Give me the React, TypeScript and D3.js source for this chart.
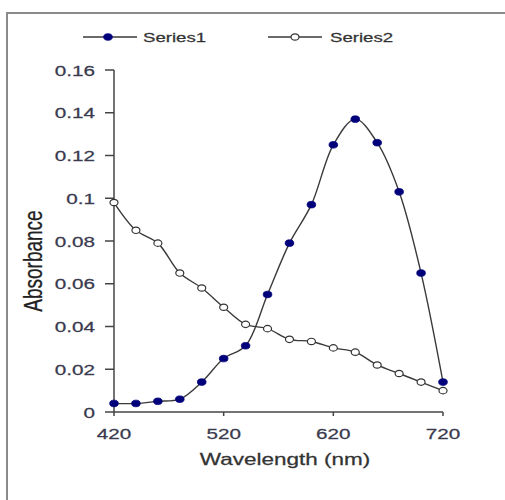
import React from "react";
import * as d3 from "d3";

// Wavelength grid (nm) and absorbance readings for the two series
const wavelengths = [420, 440, 460, 480, 500, 520, 540, 560, 580, 600, 620, 640, 660, 680, 700, 720];
const series1 = [0.004, 0.004, 0.005, 0.006, 0.014, 0.025, 0.031, 0.055, 0.079, 0.097, 0.125, 0.137, 0.126, 0.103, 0.065, 0.014];
const series2 = [0.098, 0.085, 0.079, 0.065, 0.058, 0.049, 0.041, 0.039, 0.034, 0.033, 0.030, 0.028, 0.022, 0.018, 0.014, 0.010];
const xTicks = [420, 520, 620, 720];
const yTicks = [0, 0.02, 0.04, 0.06, 0.08, 0.1, 0.12, 0.14, 0.16];
const seriesNames = ["Series1", "Series2"];

const W = 505;
const H = 500;
const SX = 1.38; // horizontal stretch applied to text
const FONT = "'Liberation Sans', Arial, sans-serif";

function SText(props: {
  x: number;
  y: number;
  anchor?: string;
  size: number;
  fill?: string;
  children: React.ReactNode;
}) {
  const { x, y, anchor = "start", size, fill = "#333", children } = props;
  return (
    <text
      transform={`translate(${x},${y}) scale(${SX},1)`}
      textAnchor={anchor}
      fontSize={size}
      fontFamily={FONT}
      fill={fill}
      stroke={fill}
      strokeWidth={0.25}
    >
      {children}
    </text>
  );
}

export default function App() {
  const x = d3.scaleLinear().domain([420, 720]).range([114, 443]);
  const y = d3.scaleLinear().domain([0, 0.16]).range([412, 70]);

  const line = d3
    .line<number>()
    .x((_, i) => x(wavelengths[i]))
    .y((d) => y(d))
    .curve(d3.curveCatmullRom.alpha(0.5));

  const lineColor = "#3a3a3a";
  const navy = "#00007a";

  const marker1 = (cx: number, cy: number, k: string) => (
    <ellipse key={k} cx={cx} cy={cy} rx={4.3} ry={3.3} fill={navy} stroke={navy} strokeWidth={0.8} />
  );
  const marker2 = (cx: number, cy: number, k: string) => (
    <ellipse key={k} cx={cx} cy={cy} rx={4} ry={3.2} fill="#fff" stroke="#333" strokeWidth={1.2} />
  );

  return (
    <svg width={W} height={H} style={{ position: "absolute", left: 0, top: 0 }}>
      <rect x={0} y={0} width={W} height={H} fill="#fff" />
      <rect x={7} y={13} width={540} height={540} fill="none" stroke="#8a8a8a" strokeWidth={2} />

      {/* legend */}
      <g>
        <line x1={83} x2={137} y1={37} y2={37} stroke={lineColor} strokeWidth={1.4} />
        {marker1(108, 37, "l1")}
        <SText x={143} y={42} size={13.5}>{seriesNames[0]}</SText>
        <line x1={268} x2={322} y1={37} y2={37} stroke={lineColor} strokeWidth={1.4} />
        {marker2(295, 37, "l2")}
        <SText x={330} y={42} size={13.5}>{seriesNames[1]}</SText>
      </g>

      {/* axes */}
      <line x1={x(420)} x2={x(420)} y1={y(0.16)} y2={y(0)} stroke="#444" strokeWidth={1.5} />
      <line x1={x(420)} x2={x(720)} y1={y(0)} y2={y(0)} stroke="#444" strokeWidth={1.5} />
      {yTicks.map((t) => (
        <g key={"y" + t}>
          <line x1={105} x2={x(420)} y1={y(t)} y2={y(t)} stroke="#444" strokeWidth={1.5} />
          <SText x={95} y={y(t) + 5.5} anchor="end" size={15} fill="#3a3a4e">
            {String(t)}
          </SText>
        </g>
      ))}
      {xTicks.map((t) => (
        <g key={"x" + t}>
          <line x1={x(t)} x2={x(t)} y1={y(0)} y2={y(0) + 4} stroke="#444" strokeWidth={1.5} />
          <SText x={x(t)} y={439} anchor="middle" size={15} fill="#3a3a4e">
            {String(t)}
          </SText>
        </g>
      ))}

      {/* axis titles */}
      <SText x={285} y={465} anchor="middle" size={16.3} fill="#333">
        Wavelength (nm)
      </SText>
      <text
        transform={`translate(42,261) scale(${SX},1) rotate(-90)`}
        textAnchor="middle"
        fontSize={19}
        fontFamily={FONT}
        fill="#222"
        stroke="#222"
        strokeWidth={0.2}
      >
        Absorbance
      </text>

      {/* series */}
      <path d={line(series2) || ""} fill="none" stroke={lineColor} strokeWidth={1.4} />
      <path d={line(series1) || ""} fill="none" stroke={lineColor} strokeWidth={1.4} />
      {series2.map((v, i) => marker2(x(wavelengths[i]), y(v), "s2" + i))}
      {series1.map((v, i) => marker1(x(wavelengths[i]), y(v), "s1" + i))}
    </svg>
  );
}
